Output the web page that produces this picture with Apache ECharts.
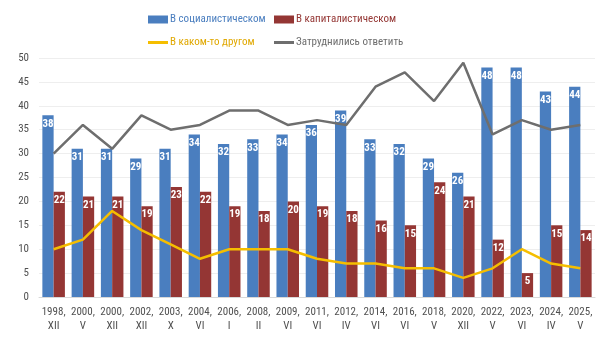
<!DOCTYPE html>
<html><head><meta charset="utf-8">
<script src="https://cdn.jsdelivr.net/npm/echarts@6/dist/echarts.min.js"></script>
<style>html,body{margin:0;padding:0;background:#fff}#c{width:609px;height:348px}</style>
</head><body><div id="c"></div>
<script>
const categories = ["1998,\nXII","2000,\nV","2000,\nXII","2002,\nXII","2003,\nX","2004,\nVI","2006,\nI","2008,\nII","2009,\nVI","2011,\nVI","2012,\nIV","2014,\nVI","2016,\nVI","2018,\nV","2020,\nXII","2022,\nV","2023,\nVI","2024,\nIV","2025,\nV"];
const socialist = [38,31,31,29,31,34,32,33,34,36,39,33,32,29,26,48,48,43,44];
const capitalist = [22,21,21,19,23,22,19,18,20,19,18,16,15,24,21,12,5,15,14];
const other = [10,12,18,14,11,8,10,10,10,8,7,7,6,6,4,6,10,7,6];
const hard = [30,36,31,38,35,36,39,39,36,37,36,44,47,41,49,34,37,35,36];
const names = ["В социалистическом","В капиталистическом","В каком-то другом","Затруднились ответить"];
const colors = ["#4a7ebf","#943634","#f5be00","#6e6e6e"];
const FONT = "'Liberation Sans Narrow', 'Roboto Condensed', Roboto, sans-serif";

const chart = echarts.init(document.getElementById('c'));
const barLabel = {show:true, position:'insideTop', distance:3, color:'#fff', fontWeight:'bold', fontSize:11, fontFamily:FONT};
function lg(name, left, top, bar, color){
  return {data:[name], left:left, top:top, itemWidth:20, itemHeight: bar?8:3, icon:'rect', itemGap:0,
    textStyle:{color:color, fontSize:11, fontFamily:FONT, padding:[0,0,0,-3]}, selectedMode:false};
}
chart.setOption({
  animation:false,
  legend:[
    lg(names[0],143,9,true,colors[0]),
    lg(names[1],269,9,true,colors[1]),
    lg(names[2],143,32,false,'#e0a800'),
    lg(names[3],269,32,false,colors[3])
  ],
  grid:{left:39, right:14, top:58, bottom:51},
  xAxis:{type:'category', data:categories,
    axisLine:{lineStyle:{color:'#d9d9d9'}}, axisTick:{show:false},
    axisLabel:{color:'#505050', fontSize:11, fontFamily:FONT, interval:0, lineHeight:14, margin:8}},
  yAxis:{type:'value', min:0, max:50, interval:5,
    axisLine:{show:false}, axisTick:{show:false},
    splitLine:{lineStyle:{color:'#eeeeee'}},
    axisLabel:{color:'#505050', fontSize:11, fontFamily:FONT, margin:10}},
  series:[
    {name:names[0], type:'bar', data:socialist, itemStyle:{color:colors[0]}, barGap:'0%', barCategoryGap:'23%', label:barLabel},
    {name:names[1], type:'bar', data:capitalist, itemStyle:{color:colors[1]}, label:barLabel},
    {name:names[2], type:'line', data:other, symbol:'none', lineStyle:{color:colors[2], width:2.5}, itemStyle:{color:colors[2]}, z:5},
    {name:names[3], type:'line', data:hard, symbol:'none', lineStyle:{color:colors[3], width:2.5}, itemStyle:{color:colors[3]}, z:5}
  ]
});
</script></body></html>
